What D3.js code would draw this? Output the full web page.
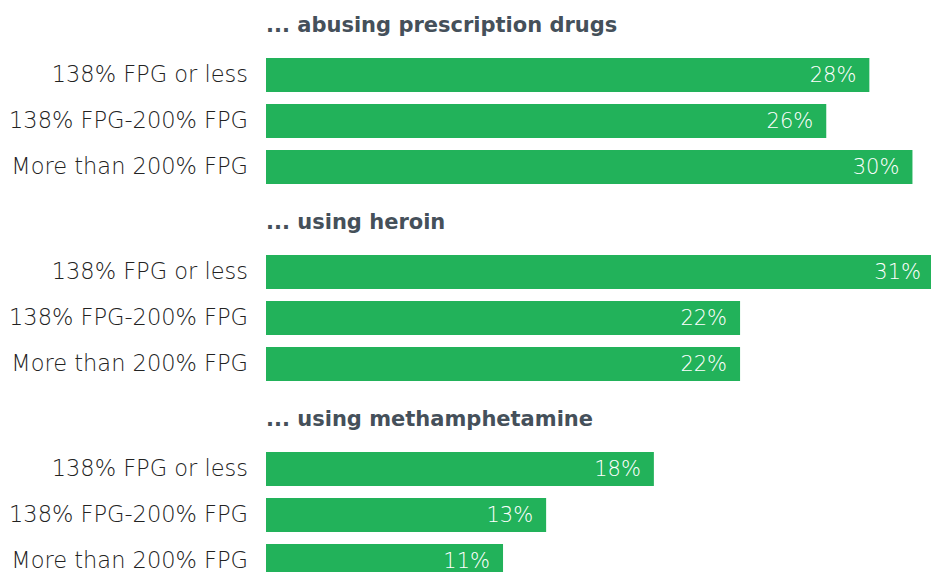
<!DOCTYPE html>
<html>
<head>
<meta charset="utf-8">
<script src="https://cdn.jsdelivr.net/npm/d3@7"></script>
<style>
  body { margin: 0; background: #fff; }
  svg text { font-family: "DejaVu Sans", sans-serif; }
</style>
</head>
<body>
<svg id="chart" width="931" height="572"></svg>
<script>
// data
const groups = ['... abusing prescription drugs', '... using heroin', '... using methamphetamine'];
const incomes = ['138% FPG or less', '138% FPG-200% FPG', 'More than 200% FPG'];
const prescription = [28, 26, 30];
const heroin = [31, 22, 22];
const meth = [18, 13, 11];

const values = [prescription, heroin, meth];

const svg = d3.select('#chart');
const green = '#22b25a';

const x = d3.scaleLinear().domain([0, 31]).range([266, 934]);

// each group starts at y of its first bar
const groupY = d3.scaleBand().domain(groups).range([58, 58 + 197 * 3]).padding(0);
const rowY = d3.scaleBand().domain(incomes).range([0, 46 * 3 - 12]).paddingInner(12 / 46).paddingOuter(0);

const g = svg.selectAll('g.group')
  .data(groups)
  .enter()
  .append('g')
  .attr('class', 'group')
  .attr('transform', d => `translate(0, ${groupY(d)})`);

g.append('text')
  .attr('x', 266)
  .attr('y', -26)
  .attr('fill', '#45505a')
  .style('font-size', '21px')
  .style('font-weight', 'bold')
  .text(d => d);

const rows = g.selectAll('g.row')
  .data((d, i) => incomes.map((inc, j) => ({ inc: inc, v: values[i][j] })))
  .enter()
  .append('g')
  .attr('class', 'row')
  .attr('transform', d => `translate(0, ${rowY(d.inc)})`);

rows.append('rect')
  .attr('x', x(0))
  .attr('y', 0)
  .attr('width', d => x(d.v) - x(0))
  .attr('height', rowY.bandwidth())
  .attr('fill', green);

rows.append('text')
  .attr('x', 248)
  .attr('y', rowY.bandwidth() / 2 + 7)
  .attr('text-anchor', 'end')
  .attr('fill', '#222')
  .style('font-size', '22.5px')
  .style('font-weight', 200)
  .text(d => d.inc);

rows.append('text')
  .attr('x', d => x(d.v) - 13)
  .attr('y', rowY.bandwidth() / 2 + 7)
  .attr('text-anchor', 'end')
  .attr('fill', '#fff')
  .style('font-size', '21px')
  .style('font-weight', 200)
  .text(d => d.v + '%');
</script>
</body>
</html>
